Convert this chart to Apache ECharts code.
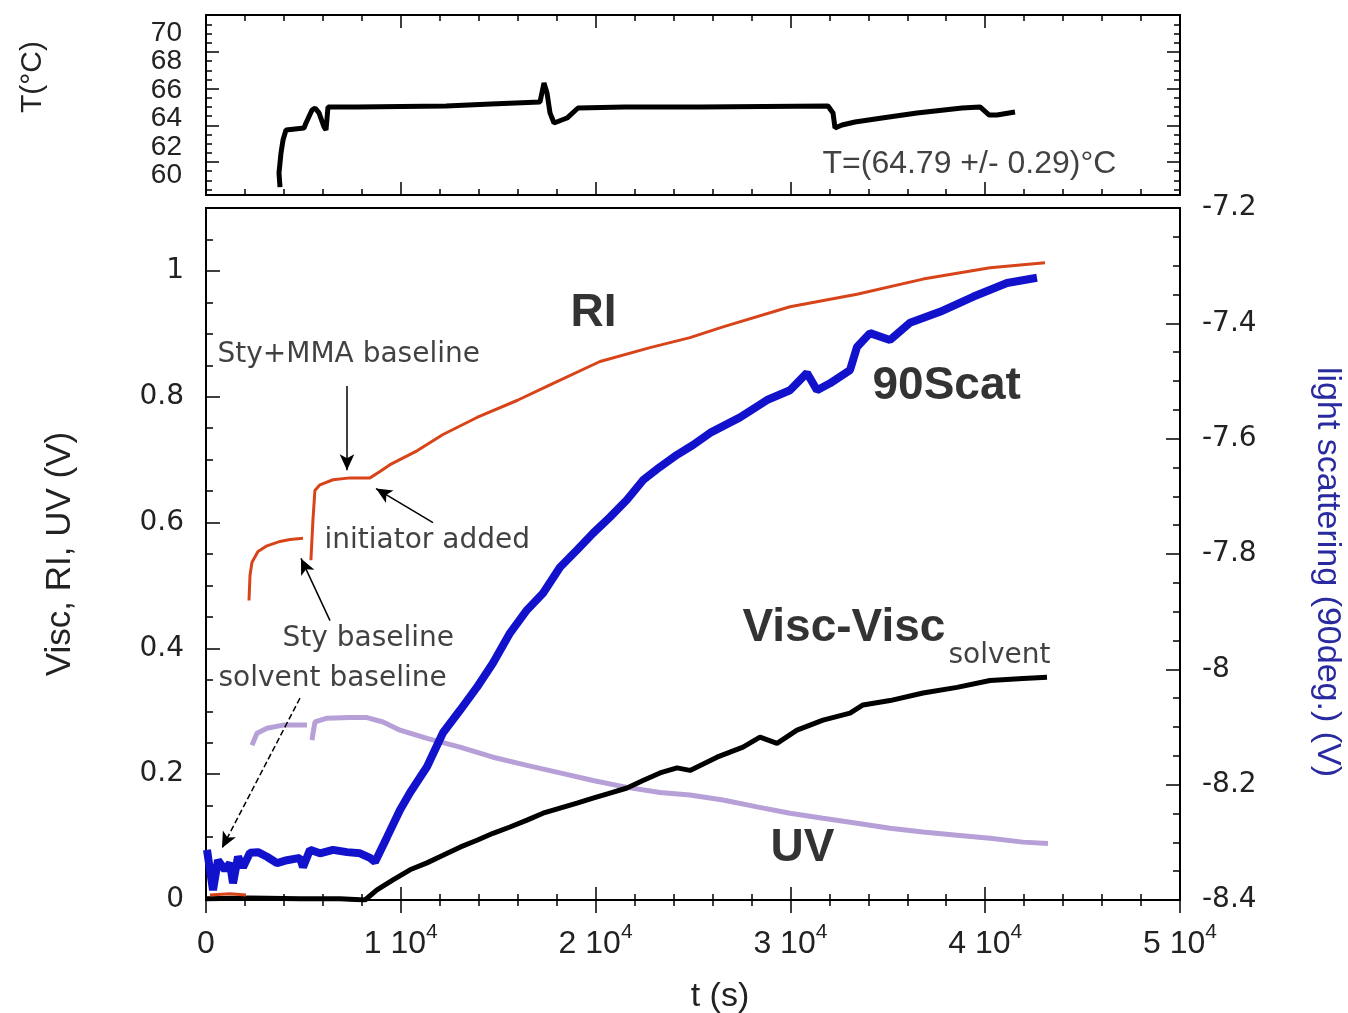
<!DOCTYPE html>
<html>
<head>
<meta charset="utf-8">
<script src="https://cdn.jsdelivr.net/npm/echarts@6/dist/echarts.min.js"></script>
<style>
  html, body { margin: 0; background: #fff; }
  #main { width: 1348px; height: 1013px; }
</style>
</head>
<body>
<div id="main"></div>
<script>
// ---- temperature trace (top panel), t in s, T in degC
const tempTime = [3799, 3747, 3850, 3953, 4107, 5031, 5134, 5442, 5596, 5801, 6058, 6160, 6263, 7752, 12320, 14630, 17146, 17351, 17505, 17659, 17865, 18532, 19097, 21509, 25360, 31930, 32187, 32290, 32649, 33316, 34702, 36499, 38809, 39733, 40195, 40606, 41530]
const tempVal  = [59.16, 60.15, 61.56, 62.48, 63.19, 63.33, 63.68, 64.60, 64.74, 64.39, 63.40, 63.19, 64.81, 64.81, 64.88, 65.02, 65.16, 66.50, 65.80, 64.39, 63.68, 64.03, 64.74, 64.81, 64.81, 64.88, 64.39, 63.33, 63.54, 63.75, 64.03, 64.39, 64.74, 64.81, 64.25, 64.25, 64.46]
const tempLabels = [60, 62, 64, 66, 68, 70]
const tempMajorTicks = [60.93, 63.52, 66.10, 68.69]
const tempMinorTicks = [58.99, 59.64, 60.28, 60.93, 61.58, 62.22, 62.87, 63.52, 64.16, 64.81, 65.46, 66.10, 66.75, 67.40, 68.04, 68.69, 69.34, 69.99, 70.63]

// ---- RI (V), null = gap in the trace
const riTime = [205, 1232, 2053, 2100, 2207, 2259, 2361, 2669, 3131, 3799, 4312, 4979, 5100, 5386, 5488, 5591, 5848, 6520, 7392, 8419, 8932, 9446, 10832, 12166, 13912, 15965, 17659, 20226, 22793, 24846, 26540, 29980, 33419, 36807, 40247, 43070]
const riVal  = [0.008, 0.010, 0.008, null, 0.476, 0.516, 0.537, 0.554, 0.563, 0.570, 0.573, 0.575, null, 0.540, 0.603, 0.651, 0.660, 0.668, 0.671, 0.671, 0.681, 0.692, 0.714, 0.740, 0.767, 0.794, 0.819, 0.856, 0.878, 0.894, 0.911, 0.943, 0.963, 0.987, 1.005, 1.013]

// ---- 90 deg light scattering (V, right axis)
const scatTime = [51, 205, 359, 616, 975, 1232, 1386, 1643, 1899, 2259, 2669, 3131, 3645, 4158, 4825, 4979, 5339, 5852, 6520, 7238, 7906, 8419, 8676, 9292, 9959, 10472, 11345, 12166, 13039, 13912, 14733, 15606, 16479, 17300, 18173, 19045, 19867, 20739, 21612, 22433, 23306, 24179, 25000, 25873, 27413, 28799, 29980, 30852, 31366, 32033, 33060, 33419, 34086, 35113, 36140, 37680, 39374, 41119, 42659]
const scatVal  = [-8.313, -8.348, -8.383, -8.331, -8.348, -8.336, -8.371, -8.325, -8.343, -8.318, -8.317, -8.325, -8.336, -8.331, -8.327, -8.343, -8.313, -8.319, -8.313, -8.317, -8.319, -8.327, -8.334, -8.291, -8.244, -8.214, -8.169, -8.110, -8.071, -8.031, -7.989, -7.937, -7.897, -7.868, -7.823, -7.793, -7.764, -7.736, -7.706, -7.672, -7.649, -7.628, -7.611, -7.590, -7.563, -7.533, -7.516, -7.486, -7.516, -7.504, -7.481, -7.441, -7.417, -7.429, -7.399, -7.380, -7.354, -7.330, -7.321]

// ---- Visc - Visc_solvent (V)
const viscTime = [0, 2259, 4825, 6879, 8162, 8778, 9600, 10472, 11345, 12166, 13039, 13912, 14733, 15606, 16479, 17300, 18173, 19045, 19867, 20739, 21612, 22433, 23306, 24179, 24846, 26232, 27567, 28440, 29312, 30339, 31674, 33060, 33727, 35113, 36807, 38553, 40247, 41941, 43173]
const viscVal  = [0.002, 0.003, 0.002, 0.002, 0.000, 0.016, 0.032, 0.048, 0.059, 0.071, 0.084, 0.095, 0.106, 0.116, 0.127, 0.138, 0.146, 0.154, 0.162, 0.170, 0.178, 0.190, 0.202, 0.210, 0.206, 0.227, 0.243, 0.259, 0.249, 0.270, 0.286, 0.297, 0.310, 0.317, 0.329, 0.338, 0.349, 0.352, 0.354]

// ---- UV (V)
const uvTime = [2361, 2618, 3131, 3953, 5185, 5300, 5442, 5493, 5596, 6212, 7392, 8265, 9086, 9959, 11345, 13039, 14733, 16479, 18173, 19867, 21612, 23306, 24846, 26540, 28286, 29980, 31674, 33419, 35113, 36807, 38553, 40247, 41941, 43224]
const uvVal  = [0.246, 0.265, 0.273, 0.278, 0.278, null, 0.254, 0.265, 0.283, 0.289, 0.290, 0.290, 0.283, 0.270, 0.257, 0.243, 0.227, 0.214, 0.202, 0.190, 0.179, 0.171, 0.167, 0.159, 0.148, 0.138, 0.130, 0.122, 0.114, 0.108, 0.103, 0.098, 0.092, 0.090]

const leftLabels = [0, 0.2, 0.4, 0.6, 0.8, 1]

// annotations: [t, V, text, bold]
const notes = [
  [565, 0.867, 'Sty+MMA baseline', false],
  [6057, 0.571, 'initiator added', false],
  [3901, 0.416, 'Sty baseline', false],
  [616, 0.351, 'solvent baseline', false],
  [18686, 0.933, 'RI', true],
  [34189, 0.816, '90Scat', true],
  [27515, 0.432, 'Visc-Visc', true],
  [38090, 0.389, 'solvent', false],
  [28953, 0.0825, 'UV', true],
]
// arrows: from [t, V] to [t, V], dashed
const arrows = [
  [[7238, 0.817], [7238, 0.683], false],
  [[11653, 0.600], [8727, 0.654], false],
  [[6366, 0.444], [4877, 0.543], false],
  [[4825, 0.321], [821, 0.0825], true],
]

const zip = (ts, vs) => ts.map((t, i) => [t, vs[i]])

const NARROW = "'Liberation Sans Narrow', 'Liberation Sans', sans-serif"
const SANS   = "'DejaVu Sans', sans-serif"
const ARIAL  = "'Liberation Sans', Arial, sans-serif"

const chart = echarts.init(document.getElementById('main'))

const line = { color: '#000', width: 2 }
const xBase = (grid, pos) => ({
  type: 'value', gridIndex: grid, position: pos,
  min: 0, max: 50000, interval: 10000,
  axisLine: { lineStyle: line },
  axisTick: { inside: true, length: 13, lineStyle: { color: '#000', width: 1.5 } },
  minorTick: { show: true, splitNumber: 5, length: 6, lineStyle: { color: '#000', width: 1.5 } },
  axisLabel: { show: false },
  splitLine: { show: false },
})
const tickOnly = (grid, pos, min, max, values, len) => ({
  type: 'value', gridIndex: grid, position: pos, min, max,
  axisLine: { show: false },
  axisTick: { inside: true, length: len, customValues: values, lineStyle: { color: '#000', width: 1.5 } },
  axisLabel: { show: false },
  splitLine: { show: false },
})

const xBottom = xBase(1, 'bottom')
xBottom.axisLabel = {
  show: true, margin: 22,
  formatter: v => v === 0 ? '{n|0}' : `{n|${v / 10000} 10}{s|4}`,
  rich: {
    n: { fontFamily: NARROW, fontSize: 32, color: '#222', lineHeight: 44 },
    s: { fontFamily: NARROW, fontSize: 21, color: '#222', verticalAlign: 'top', lineHeight: 22 },
  },
}
xBottom.name = 't (s)'
xBottom.nameLocation = 'middle'
xBottom.nameGap = 80
xBottom.nameTextStyle = { fontFamily: NARROW, fontSize: 34, color: '#222', padding: [0, 0, 0, 54] }

const option = {
  backgroundColor: '#fff',
  animation: false,
  grid: [
    { left: 206, right: 168, top: 15, height: 180, show: true, borderColor: '#000', borderWidth: 2, outerBoundsMode: 'none' },
    { left: 206, right: 168, top: 208, height: 692, show: true, borderColor: '#000', borderWidth: 2, outerBoundsMode: 'none' },
  ],
  xAxis: [xBase(0, 'bottom'), xBase(0, 'top'), xBottom, xBase(1, 'top')],
  yAxis: [
    {
      type: 'value', gridIndex: 0, position: 'left', min: 58.6, max: 71.3,
      axisLine: { lineStyle: line },
      axisTick: { inside: true, length: 13, customValues: tempMajorTicks, lineStyle: { color: '#000', width: 1.5 } },
      axisLabel: { customValues: tempLabels, fontFamily: NARROW, fontSize: 28, color: '#222', margin: 24 },
      splitLine: { show: false },
      name: 'T(°C)', nameLocation: 'middle', nameGap: 158,
      nameTextStyle: { fontFamily: ARIAL, fontSize: 30, color: '#222', padding: [0, 0, 0, 56] },
    },
    tickOnly(0, 'left', 58.6, 71.3, tempMinorTicks, 6),
    Object.assign(tickOnly(0, 'right', 58.6, 71.3, tempMajorTicks, 13), { axisLine: { lineStyle: line } }),
    tickOnly(0, 'right', 58.6, 71.3, tempMinorTicks, 6),
    {
      type: 'value', gridIndex: 1, position: 'left', min: 0, max: 1.1,
      axisLine: { lineStyle: line },
      axisTick: { inside: true, length: 14, customValues: leftLabels, lineStyle: { color: '#000', width: 1.5 } },
      axisLabel: { customValues: leftLabels, fontFamily: SANS, fontSize: 28, color: '#222', margin: 22 },
      splitLine: { show: false },
      name: 'Visc, RI, UV (V)', nameLocation: 'middle', nameGap: 128,
      nameTextStyle: { fontFamily: ARIAL, fontSize: 35, color: '#222' },
    },
    Object.assign(tickOnly(1, 'left', 0, 1.1, null, 7), {
      interval: 0.05,
      axisTick: { inside: true, length: 7, lineStyle: { color: '#000', width: 1.5 } },
    }),
    {
      type: 'value', gridIndex: 1, position: 'right', min: -8.4, max: -7.2, interval: 0.2,
      axisLine: { lineStyle: line },
      axisTick: { inside: true, length: 14, lineStyle: { color: '#000', width: 1.5 } },
      minorTick: { show: true, splitNumber: 4, length: 7, lineStyle: { color: '#000', width: 1.5 } },
      axisLabel: { fontFamily: SANS, fontSize: 28, color: '#222', margin: 22 },
      splitLine: { show: false },
      name: 'light scattering (90deg.) (V)', nameLocation: 'middle', nameGap: 130, nameRotate: -90,
      nameTextStyle: { fontFamily: ARIAL, fontSize: 34, color: '#2a2aa0', padding: [0, 0, 0, 36] },
    },
  ],
  series: [
    {
      name: 'T', type: 'line', xAxisIndex: 0, yAxisIndex: 0, showSymbol: false, silent: true,
      lineStyle: { color: '#000', width: 5 }, data: zip(tempTime, tempVal),
    },
    {
      name: 'T note', type: 'scatter', xAxisIndex: 0, yAxisIndex: 0, symbolSize: 1, silent: true,
      itemStyle: { color: 'transparent' },
      label: { show: true, position: 'right', distance: 0, formatter: '{b}', fontFamily: NARROW, fontSize: 32, color: '#111' },
      data: [{ name: 'T=(64.79 +/- 0.29)°C', value: [31622, 60.79] }],
    },
    {
      name: 'UV', type: 'line', xAxisIndex: 2, yAxisIndex: 4, showSymbol: false, silent: true,
      lineStyle: { color: '#b7a0d8', width: 5 }, data: zip(uvTime, uvVal),
    },
    {
      name: 'Visc', type: 'line', xAxisIndex: 2, yAxisIndex: 4, showSymbol: false, silent: true,
      lineStyle: { color: '#000', width: 5 }, data: zip(viscTime, viscVal),
    },
    {
      name: '90Scat', type: 'line', xAxisIndex: 2, yAxisIndex: 6, showSymbol: false, silent: true,
      lineStyle: { color: '#1212cc', width: 8 }, data: zip(scatTime, scatVal),
    },
    {
      name: 'RI', type: 'line', xAxisIndex: 2, yAxisIndex: 4, showSymbol: false, silent: true,
      lineStyle: { color: '#d8441a', width: 3 }, data: zip(riTime, riVal),
    },
    {
      name: 'notes', type: 'scatter', xAxisIndex: 2, yAxisIndex: 4, symbolSize: 1, silent: true,
      itemStyle: { color: 'transparent' },
      label: { show: true, position: 'right', distance: 0, color: '#000', formatter: '{b}' },
      data: notes.map(n => ({
        name: n[2], value: [n[0], n[1]],
        label: n[3]
          ? { fontFamily: ARIAL, fontWeight: 'bold', fontSize: 46 }
          : { fontFamily: SANS, fontSize: 28, color: '#111' },
      })),
      markLine: {
        silent: true, symbol: ['none', 'arrow'], symbolSize: [11, 16],
        label: { show: false },
        lineStyle: { color: '#000', width: 1.5, type: 'solid' },
        data: arrows.map(a => [
          { coord: a[0], lineStyle: { type: a[2] ? 'dashed' : 'solid' } },
          { coord: a[1] },
        ]),
      },
    },
  ],
}

chart.setOption(option)
</script>
</body>
</html>
